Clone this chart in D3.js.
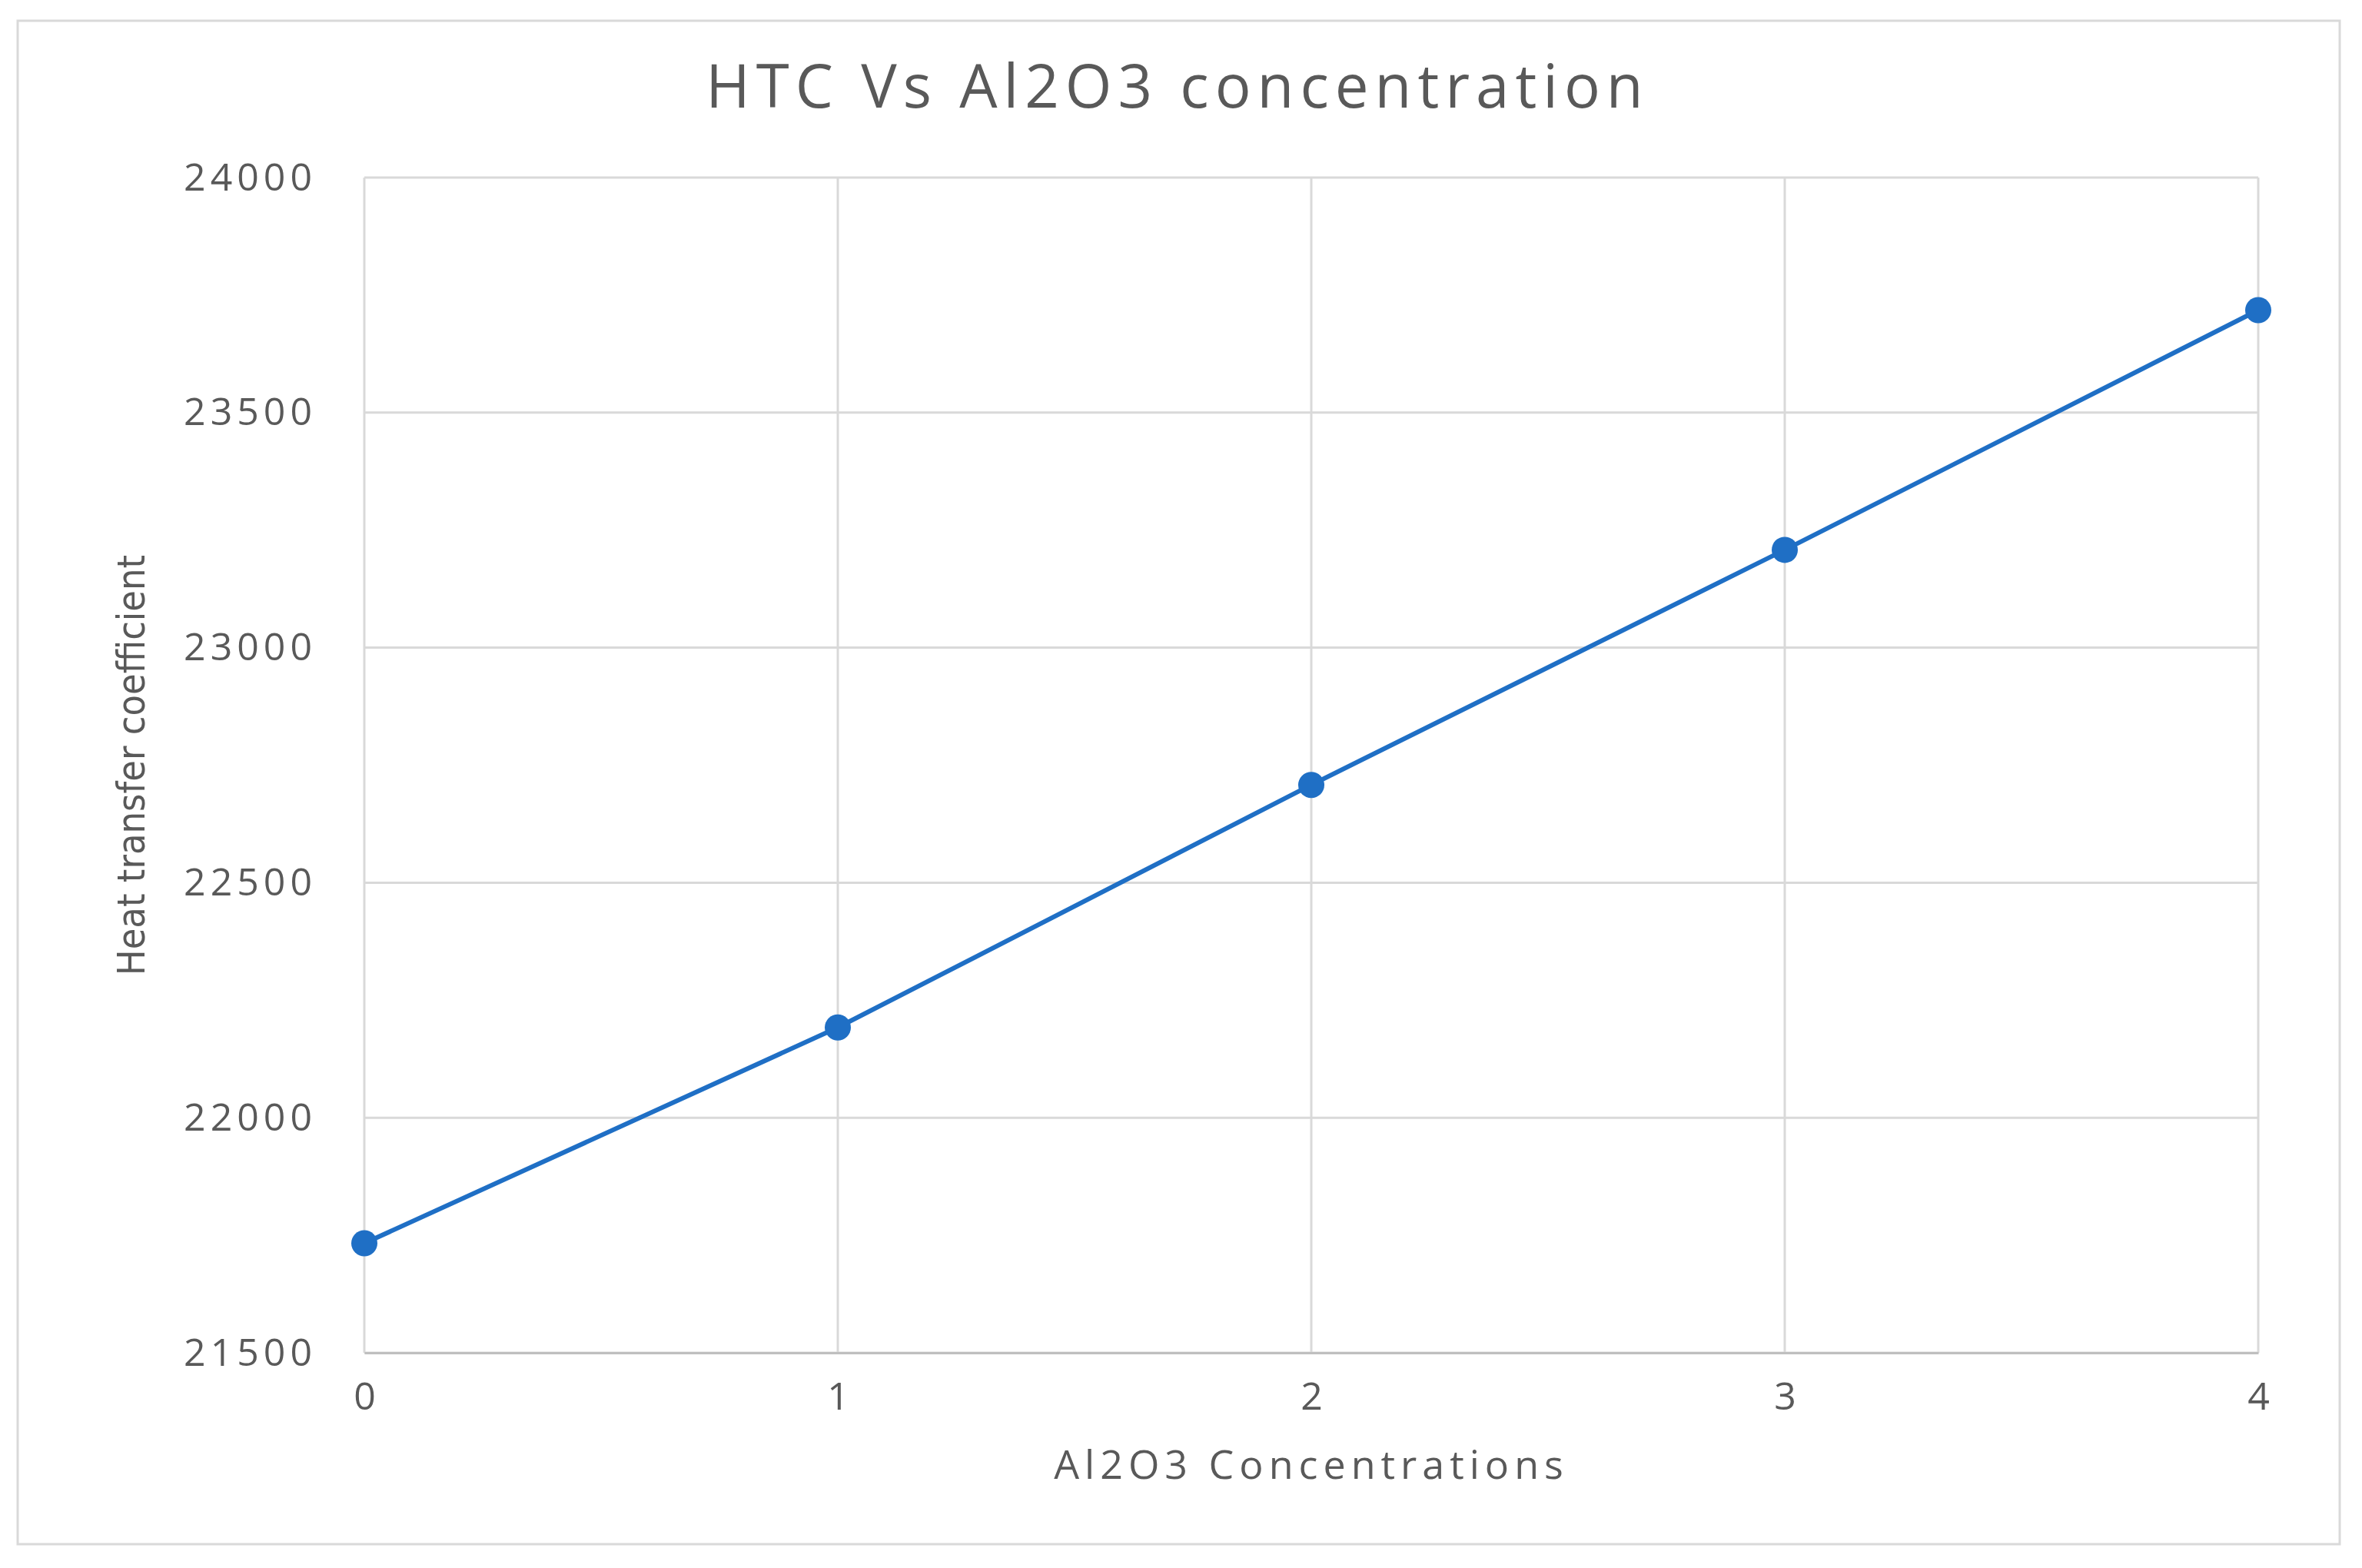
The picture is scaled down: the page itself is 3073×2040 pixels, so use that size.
<!DOCTYPE html>
<html>
<head>
<meta charset="utf-8">
<script src="https://cdn.jsdelivr.net/npm/d3@7"></script>
<style>
  body { margin: 0; background: #fff; }
  text { font-family: "Open Sans", "Noto Sans", sans-serif; fill: #595959; }
</style>
</head>
<body>
<svg id="chart"></svg>
<script>
const concentrations = [0, 1, 2, 3, 4];
const htcValues = [21733, 22192, 22708, 23208, 23718];
const yTicks = [21500, 22000, 22500, 23000, 23500, 24000];

const width = 3073, height = 2040;
const margin = { top: 231, right: 135, bottom: 280, left: 474 };

const svg = d3.select("#chart").attr("width", width).attr("height", height);

svg.append("rect")
  .attr("x", 23).attr("y", 27).attr("width", 3021).attr("height", 1982)
  .attr("fill", "#fff").attr("stroke", "#d9d9d9").attr("stroke-width", 3);

const x = d3.scaleLinear().domain([0, 4]).range([margin.left, width - margin.right]);
const y = d3.scaleLinear().domain([21500, 24000]).range([height - margin.bottom, margin.top]);

// gridlines
svg.append("g").selectAll("line.h").data(yTicks).join("line")
  .attr("x1", x(0)).attr("x2", x(4))
  .attr("y1", d => y(d)).attr("y2", d => y(d))
  .attr("stroke", "#d9d9d9").attr("stroke-width", 3);
svg.append("g").selectAll("line.v").data(concentrations).join("line")
  .attr("y1", y(21500)).attr("y2", y(24000))
  .attr("x1", d => x(d)).attr("x2", d => x(d))
  .attr("stroke", "#d9d9d9").attr("stroke-width", 3);

const xAxis = g => g
  .attr("transform", `translate(0,${y(21500)})`)
  .call(d3.axisBottom(x).tickValues(concentrations).tickFormat(d3.format("d")).tickSize(0).tickPadding(38))
  .call(g => g.select(".domain").attr("stroke", "#bfbfbf").attr("stroke-width", 3))
  .call(g => g.selectAll("text").attr("font-size", 50).attr("fill", "#595959"));

const yAxis = g => g
  .attr("transform", `translate(${x(0)},0)`)
  .call(d3.axisLeft(y).tickValues(yTicks).tickFormat(d3.format("d")).tickSize(0).tickPadding(62))
  .call(g => g.select(".domain").remove())
  .call(g => g.selectAll("text").attr("font-size", 50).attr("letter-spacing", 6).attr("fill", "#595959"));

svg.append("g").call(xAxis);
svg.append("g").call(yAxis);

const line = d3.line().x((d, i) => x(concentrations[i])).y(d => y(d));
svg.append("path").datum(htcValues)
  .attr("d", line).attr("fill", "none")
  .attr("stroke", "#1f6fc5").attr("stroke-width", 6);

svg.append("g").selectAll("circle").data(htcValues).join("circle")
  .attr("cx", (d, i) => x(concentrations[i])).attr("cy", d => y(d))
  .attr("r", 17).attr("fill", "#1f6fc5");

svg.append("text")
  .attr("x", 1532).attr("y", 140).attr("text-anchor", "middle")
  .attr("font-size", 78).attr("letter-spacing", 8).text("HTC Vs Al2O3 concentration");

svg.append("text")
  .attr("x", x(2)).attr("y", 1924).attr("text-anchor", "middle")
  .attr("font-size", 52).attr("letter-spacing", 7).text("Al2O3 Concentrations");

svg.append("text")
  .attr("transform", `translate(188,${(y(21500) + y(24000)) / 2}) rotate(-90)`)
  .attr("text-anchor", "middle")
  .style("font-family", "'Liberation Sans Narrow', 'DejaVu Sans Condensed', sans-serif")
  .attr("font-size", 50).text("Heat transfer coefficient");
</script>
</body>
</html>
